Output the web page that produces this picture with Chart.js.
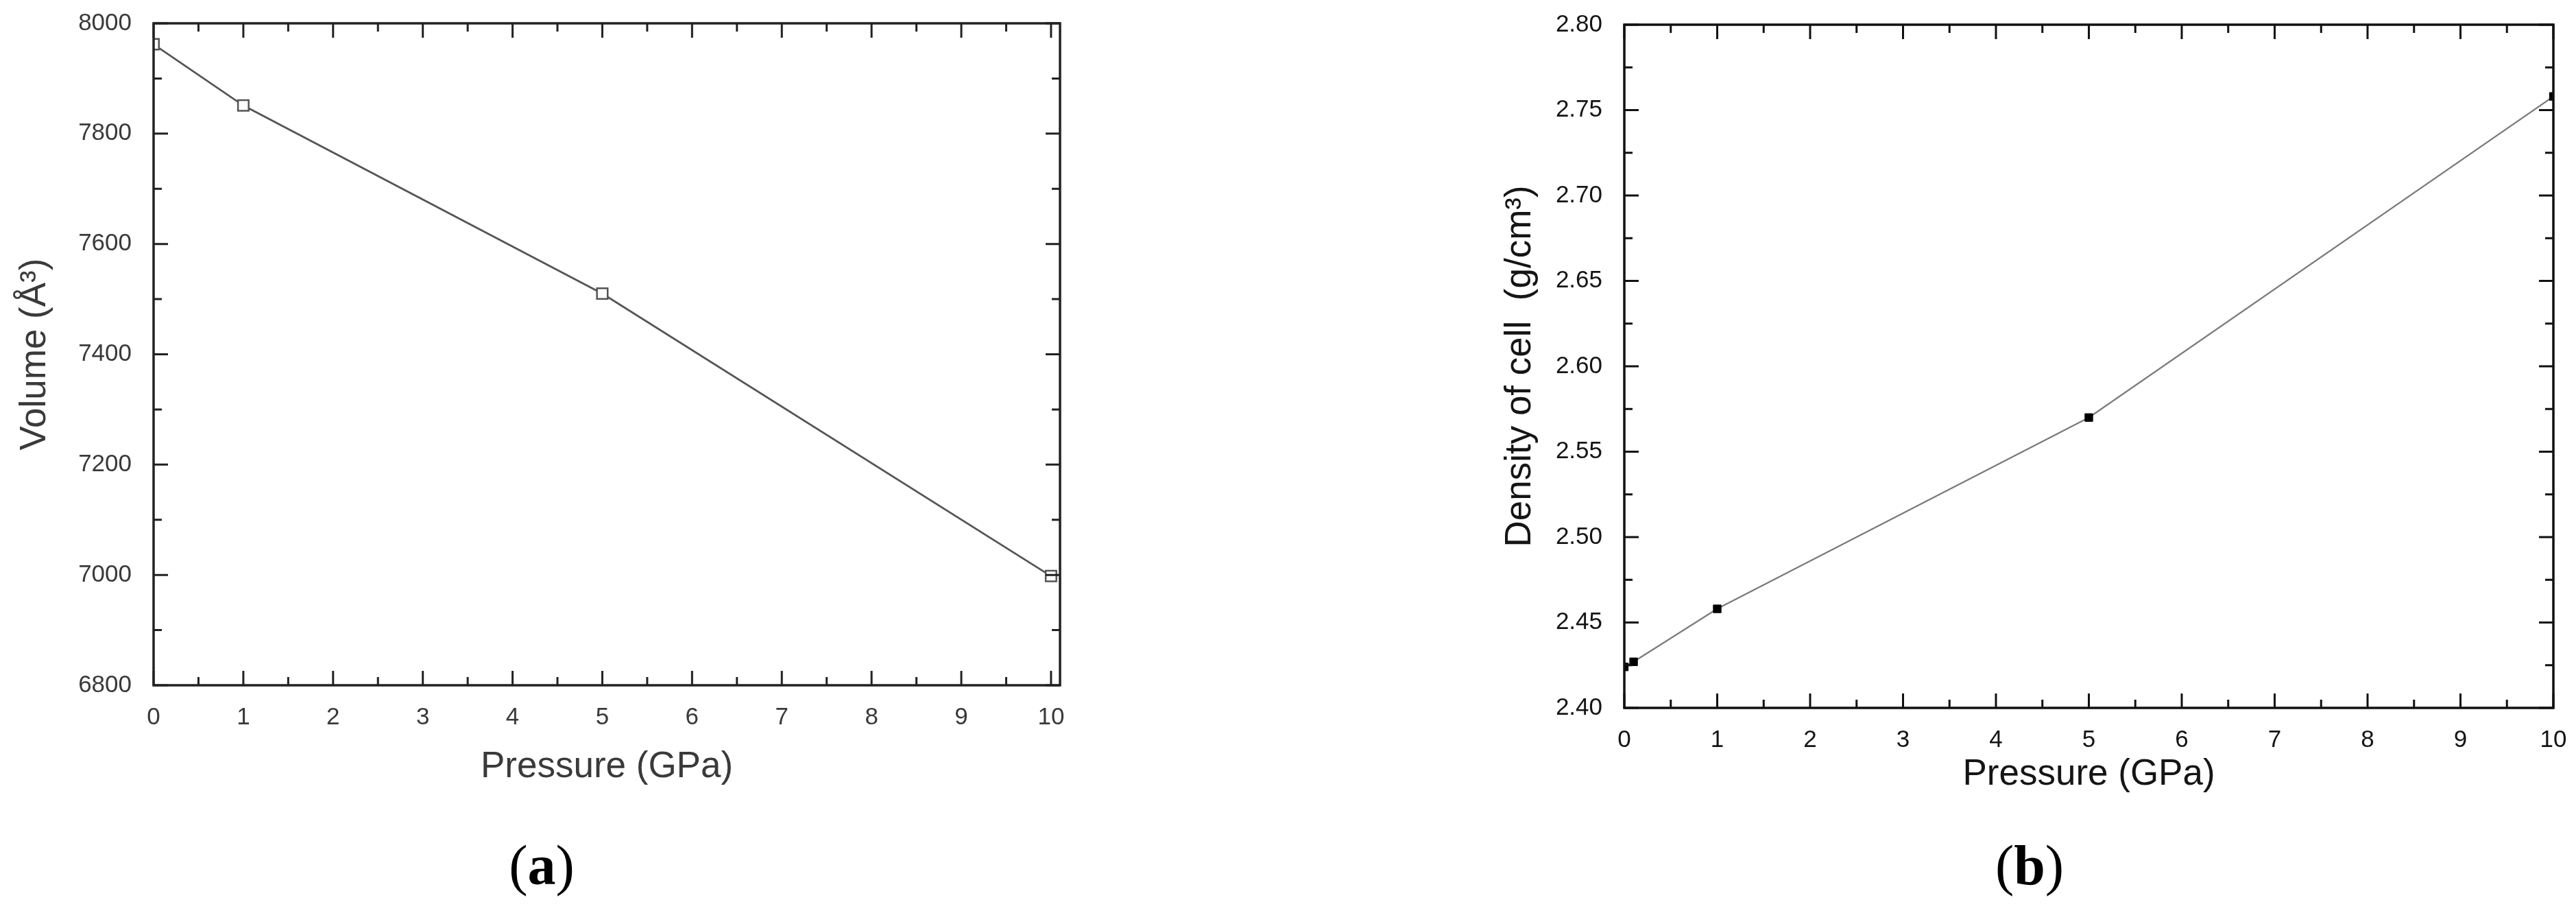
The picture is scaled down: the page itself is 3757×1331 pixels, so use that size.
<!DOCTYPE html>
<html>
<head>
<meta charset="utf-8">
<script src="https://cdn.jsdelivr.net/npm/chart.js@4.4.0/dist/chart.umd.min.js"></script>
<style>
  html, body { margin: 0; padding: 0; background: #fff; }
  body { width: 3757px; height: 1331px; position: relative; overflow: hidden; }
  canvas { position: absolute; top: 0; }
  #chartA { left: 0; }
  #chartB { left: 1850px; }
  .panel-label {
    position: absolute; top: 1221px;
    font-family: 'Liberation Serif', 'Times New Roman', serif;
    font-size: 82px; line-height: 1; color: #000;
    transform: translateX(-50%); white-space: nowrap;
  }
</style>
</head>
<body>
<canvas id="chartA" width="1850" height="1331"></canvas>
<canvas id="chartB" width="1907" height="1331"></canvas>
<div class="panel-label" style="left:790px">(<b>a</b>)</div>
<div class="panel-label" style="left:2960px">(<b>b</b>)</div>

<script>
// --- DATA ---
const pressureA = [0, 1, 5, 10];
const volumeA = [7962, 7851, 7510, 6998];

const pressureB = [0, 0.1, 1, 5, 10];
const densityB = [2.424, 2.427, 2.458, 2.570, 2.758];

const xTicks = [0, 1, 2, 3, 4, 5, 6, 7, 8, 9, 10];
const yTicksA = [6800, 7000, 7200, 7400, 7600, 7800, 8000];
const yTicksB = [2.40, 2.45, 2.50, 2.55, 2.60, 2.65, 2.70, 2.75, 2.80];

const FONT = "'Liberation Sans', Arial, sans-serif";

// draws the closed frame with inward major + minor ticks on all four sides
const boxTicks = {
    id: 'boxTicks',
    afterDatasetsDraw(chart, args, opts) {
        const { ctx, chartArea: a, scales: { x, y } } = chart;
        const majX = x.ticks.map(t => t.value), majY = y.ticks.map(t => t.value);
        const minX = majX.slice(1).map((v, i) => (v + majX[i]) / 2);
        const minY = majY.slice(1).map((v, i) => (v + majY[i]) / 2);
        ctx.save();
        ctx.strokeStyle = opts.color;
        ctx.lineWidth = 3;
        const tickX = (vals, len) => vals.forEach(v => {
            const px = x.getPixelForValue(v);
            ctx.beginPath();
            ctx.moveTo(px, a.bottom); ctx.lineTo(px, a.bottom - len);
            ctx.moveTo(px, a.top); ctx.lineTo(px, a.top + len);
            ctx.stroke();
        });
        const tickY = (vals, len) => vals.forEach(v => {
            const py = y.getPixelForValue(v);
            ctx.beginPath();
            ctx.moveTo(a.left, py); ctx.lineTo(a.left + len, py);
            ctx.moveTo(a.right, py); ctx.lineTo(a.right - len, py);
            ctx.stroke();
        });
        tickX(majX, 21); tickX(minX, 12);
        tickY(majY, 21); tickY(minY, 12);
        ctx.lineWidth = 3.5;
        ctx.strokeRect(a.left, a.top, a.right - a.left, a.bottom - a.top);
        ctx.restore();
    }
};

function fixedBox(size, prop) {
    return scale => {
        scale[prop] = size;
        scale.paddingLeft = scale.paddingRight = scale.paddingTop = scale.paddingBottom = 0;
    };
}

function makeChart(id, p) {
    return new Chart(document.getElementById(id).getContext('2d'), {
        type: 'line',
        data: {
            datasets: [{
                data: p.xs.map((v, i) => ({ x: v, y: p.ys[i] })),
                borderColor: p.lineColor,
                borderWidth: p.lineWidth,
                pointStyle: 'rect',
                pointRadius: p.pointRadius,
                pointBorderWidth: p.pointBorderWidth,
                pointBorderColor: p.pointBorderColor,
                pointBackgroundColor: p.pointFill,
                tension: 0,
                fill: false
            }]
        },
        options: {
            responsive: false,
            devicePixelRatio: 1,
            animation: false,
            layout: { padding: p.padding },
            plugins: {
                legend: { display: false },
                tooltip: { enabled: false },
                boxTicks: { color: p.axisColor }
            },
            scales: {
                x: {
                    type: 'linear',
                    min: 0, max: p.xMax,
                    afterBuildTicks: s => { s.ticks = xTicks.map(v => ({ value: v })); },
                    afterFit: fixedBox(p.xBoxHeight, 'height'),
                    grid: { display: false },
                    border: { display: false },
                    ticks: {
                        autoSkip: false, maxRotation: 0, padding: 18,
                        color: p.textColor, font: { family: FONT, size: 35 },
                        callback: v => String(v)
                    },
                    title: {
                        display: true, text: 'Pressure (GPa)', color: p.textColor,
                        font: { family: FONT, size: 53 },
                        padding: { top: 0, bottom: p.xTitlePad }
                    }
                },
                y: {
                    type: 'linear',
                    min: p.yTicks[0], max: p.yTicks[p.yTicks.length - 1],
                    afterBuildTicks: s => { s.ticks = p.yTicks.map(v => ({ value: v })); },
                    afterFit: fixedBox(p.yBoxWidth, 'width'),
                    grid: { display: false },
                    border: { display: false },
                    ticks: {
                        autoSkip: false, padding: 24,
                        color: p.textColor, font: { family: FONT, size: 35 },
                        callback: p.yFormat
                    },
                    title: {
                        display: true, text: p.yTitle, color: p.textColor,
                        font: { family: FONT, size: 53 },
                        padding: { top: p.yTitlePad, bottom: 0 }
                    }
                }
            }
        },
        plugins: [boxTicks]
    });
}

// --- INITIALIZATION ---
makeChart('chartA', {
    xs: pressureA, ys: volumeA, yTicks: yTicksA, xMax: 10.1,
    yTitle: 'Volume (Å³)', yFormat: v => String(v),
    lineColor: '#555555', lineWidth: 2.7,
    pointRadius: 11, pointBorderWidth: 2.5, pointBorderColor: '#555555', pointFill: '#ffffff',
    textColor: '#3a3a3a', axisColor: '#222222',
    padding: { left: 0, top: 34, right: 304, bottom: 0 },
    yBoxWidth: 224, xBoxHeight: 332, xTitlePad: 181, yTitlePad: 20
});

makeChart('chartB', {
    xs: pressureB, ys: densityB, yTicks: yTicksB, xMax: 10,
    yTitle: 'Density of cell  (g/cm³)', yFormat: v => v.toFixed(2),
    lineColor: '#7a7a7a', lineWidth: 2.2,
    pointRadius: 8, pointBorderWidth: 1, pointBorderColor: '#000000', pointFill: '#000000',
    textColor: '#151515', axisColor: '#111111',
    padding: { left: 336, top: 36, right: 33, bottom: 0 },
    yBoxWidth: 183, xBoxHeight: 299, xTitlePad: 170, yTitlePad: 0
});
</script>
</body>
</html>
